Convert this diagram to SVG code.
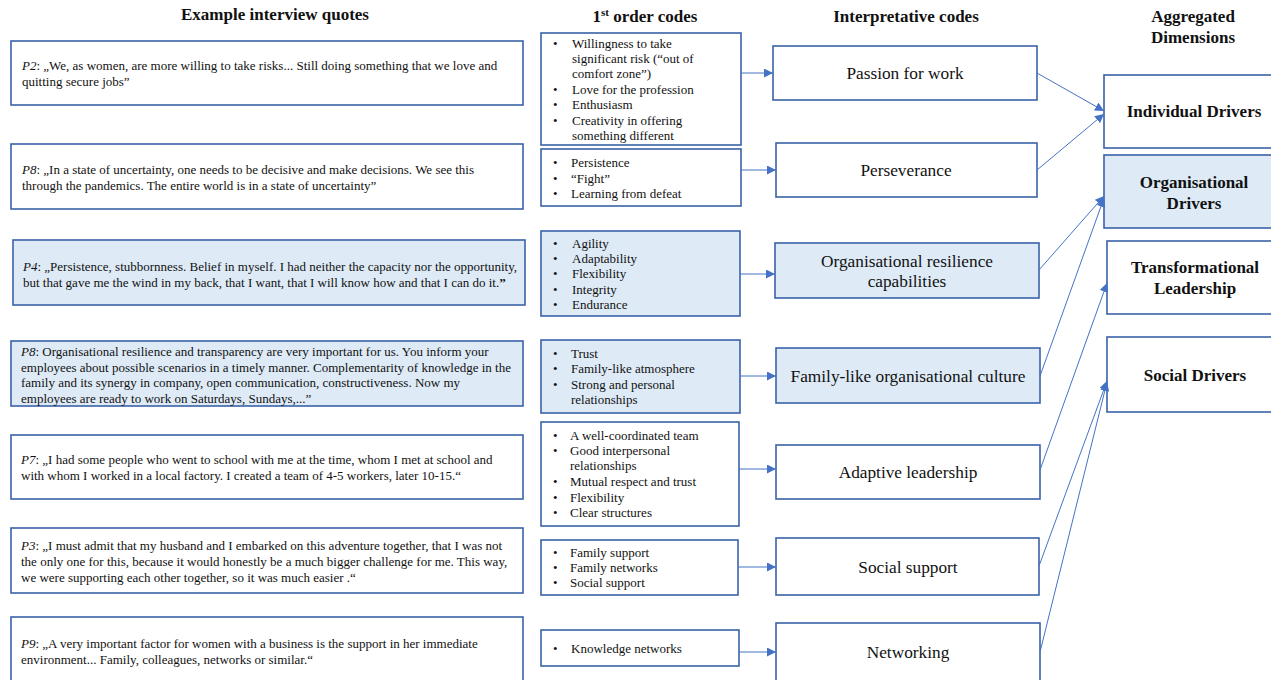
<svg xmlns="http://www.w3.org/2000/svg" width="1271" height="680" viewBox="0 0 1271 680">
<style>
text{font-family:"Liberation Serif","Times New Roman",serif;fill:#111}
.hd{font-size:17px;font-weight:bold;text-anchor:middle}
.q{font-size:13px}
.c{font-size:13px}
.ic{font-size:17.3px;text-anchor:middle}
.ag{font-size:17px;font-weight:bold;text-anchor:middle}
.bx{fill:#fff;stroke:#3a62a8;stroke-width:1.6}
.bl{fill:#deebf7;stroke:#3a62a8;stroke-width:1.6}
.cn{stroke:#4472c4;stroke-width:1;fill:none}
</style>
<defs>
<marker id="ah" markerUnits="userSpaceOnUse" markerWidth="10" markerHeight="9" refX="9" refY="4.5" orient="auto">
<path d="M0,0 L9,4.5 L0,9 z" fill="#4472c4"/>
</marker>
</defs>
<rect width="1271" height="680" fill="#fff"/>
<g id="headers">
<text class="hd" x="275" y="20">Example interview quotes</text>
<text class="hd" x="645" y="22">1<tspan font-size="11" dy="-6">st</tspan><tspan dy="6"> order codes</tspan></text>
<text class="hd" x="906" y="22">Interpretative codes</text>
<text class="hd" x="1193" y="22">Aggregated</text>
<text class="hd" x="1193" y="43">Dimensions</text>
</g>
<g id="quote-p2">
<rect class="bx" x="11" y="41" width="512" height="64"/>
<text class="q" x="22" y="70"><tspan font-style="italic">P2</tspan>: „We, as women, are more willing to take risks... Still doing something that we love and</text>
<text class="q" x="22" y="86">quitting secure jobs”</text>
</g>
<g id="quote-p8a">
<rect class="bx" x="11" y="144" width="512" height="65"/>
<text class="q" x="22" y="174"><tspan font-style="italic">P8</tspan>: „In a state of uncertainty, one needs to be decisive and make decisions. We see this</text>
<text class="q" x="22" y="190">through the pandemics. The entire world is in a state of uncertainty”</text>
</g>
<g id="quote-p4">
<rect class="bl" x="13" y="240" width="512" height="65"/>
<text class="q" x="23" y="271"><tspan font-style="italic">P4</tspan>: „Persistence, stubbornness. Belief in myself. I had neither the capacity nor the opportunity,</text>
<text class="q" x="23" y="287">but that gave me the wind in my back, that I want, that I will know how and that I can do it.<tspan font-weight="bold">”</tspan></text>
</g>
<g id="quote-p8b">
<rect class="bl" x="11" y="341" width="512" height="65"/>
<text class="q" x="21" y="356"><tspan font-style="italic">P8</tspan>: Organisational resilience and transparency are very important for us. You inform your</text>
<text class="q" x="21" y="372">employees about possible scenarios in a timely manner. Complementarity of knowledge in the</text>
<text class="q" x="21" y="387">family and its synergy in company, open communication, constructiveness. Now my</text>
<text class="q" x="21" y="403">employees are ready to work on Saturdays, Sundays,...”</text>
</g>
<g id="quote-p7">
<rect class="bx" x="11" y="435" width="512" height="64"/>
<text class="q" x="21" y="464"><tspan font-style="italic">P7</tspan>: „I had some people who went to school with me at the time, whom I met at school and</text>
<text class="q" x="21" y="480">with whom I worked in a local factory. I created a team of 4-5 workers, later 10-15.“</text>
</g>
<g id="quote-p3">
<rect class="bx" x="11" y="528" width="512" height="65"/>
<text class="q" x="21" y="550"><tspan font-style="italic">P3</tspan>: „I must admit that my husband and I embarked on this adventure together, that I was not</text>
<text class="q" x="21" y="566">the only one for this, because it would honestly be a much bigger challenge for me. This way,</text>
<text class="q" x="21" y="582">we were supporting each other together, so it was much easier .“</text>
</g>
<g id="quote-p9">
<rect class="bx" x="11" y="617" width="512" height="66"/>
<text class="q" x="21" y="648"><tspan font-style="italic">P9</tspan>: „A very important factor for women with a business is the support in her immediate</text>
<text class="q" x="21" y="664">environment... Family, colleagues, networks or similar.“</text>
</g>
<g id="codes-passion">
<rect class="bx" x="541" y="33" width="200" height="112"/>
<text class="c" x="553" y="48">•</text><text class="c" x="572" y="48">Willingness to take</text>
<text class="c" x="572" y="63">significant risk (“out of</text>
<text class="c" x="572" y="78">comfort zone”)</text>
<text class="c" x="553" y="94">•</text><text class="c" x="572" y="94">Love for the profession</text>
<text class="c" x="553" y="109">•</text><text class="c" x="572" y="109">Enthusiasm</text>
<text class="c" x="553" y="125">•</text><text class="c" x="572" y="125">Creativity in offering</text>
<text class="c" x="572" y="140">something different</text>
</g>
<g id="codes-perseverance">
<rect class="bx" x="541" y="149" width="200" height="57"/>
<text class="c" x="553" y="167">•</text><text class="c" x="571" y="167">Persistence</text>
<text class="c" x="553" y="183">•</text><text class="c" x="571" y="183">“Fight”</text>
<text class="c" x="553" y="198">•</text><text class="c" x="571" y="198">Learning from defeat</text>
</g>
<g id="codes-resilience">
<rect class="bl" x="541" y="231" width="199" height="85"/>
<text class="c" x="553" y="248">•</text><text class="c" x="572" y="248">Agility</text>
<text class="c" x="553" y="263">•</text><text class="c" x="572" y="263">Adaptability</text>
<text class="c" x="553" y="278">•</text><text class="c" x="572" y="278">Flexibility</text>
<text class="c" x="553" y="294">•</text><text class="c" x="572" y="294">Integrity</text>
<text class="c" x="553" y="309">•</text><text class="c" x="572" y="309">Endurance</text>
</g>
<g id="codes-family">
<rect class="bl" x="541" y="340" width="199" height="73"/>
<text class="c" x="553" y="358">•</text><text class="c" x="571" y="358">Trust</text>
<text class="c" x="553" y="373">•</text><text class="c" x="571" y="373">Family-like atmosphere</text>
<text class="c" x="553" y="389">•</text><text class="c" x="571" y="389">Strong and personal</text>
<text class="c" x="571" y="404">relationships</text>
</g>
<g id="codes-adaptive">
<rect class="bx" x="541" y="422" width="198" height="104"/>
<text class="c" x="553" y="440">•</text><text class="c" x="570" y="440">A well-coordinated team</text>
<text class="c" x="553" y="455">•</text><text class="c" x="570" y="455">Good interpersonal</text>
<text class="c" x="570" y="470">relationships</text>
<text class="c" x="553" y="486">•</text><text class="c" x="570" y="486">Mutual respect and trust</text>
<text class="c" x="553" y="502">•</text><text class="c" x="570" y="502">Flexibility</text>
<text class="c" x="553" y="517">•</text><text class="c" x="570" y="517">Clear structures</text>
</g>
<g id="codes-social">
<rect class="bx" x="541" y="540" width="197" height="55"/>
<text class="c" x="553" y="557">•</text><text class="c" x="570" y="557">Family support</text>
<text class="c" x="553" y="572">•</text><text class="c" x="570" y="572">Family networks</text>
<text class="c" x="553" y="587">•</text><text class="c" x="570" y="587">Social support</text>
</g>
<g id="codes-networking">
<rect class="bx" x="541" y="630" width="198" height="36"/>
<text class="c" x="553" y="653">•</text><text class="c" x="571" y="653">Knowledge networks</text>
</g>
<g id="ic-passion">
<rect class="bx" x="773" y="46" width="264" height="54"/>
<text class="ic" x="905" y="79">Passion for work</text>
</g>
<g id="ic-perseverance">
<rect class="bx" x="776" y="143" width="261" height="54"/>
<text class="ic" x="906" y="176">Perseverance</text>
</g>
<g id="ic-resilience">
<rect class="bl" x="775" y="243" width="264" height="55"/>
<text class="ic" x="907" y="267">Organisational resilience</text>
<text class="ic" x="907" y="287">capabilities</text>
</g>
<g id="ic-family">
<rect class="bl" x="776" y="348" width="264" height="55"/>
<text class="ic" x="908" y="382">Family-like organisational culture</text>
</g>
<g id="ic-adaptive">
<rect class="bx" x="776" y="445" width="264" height="54"/>
<text class="ic" x="908" y="478">Adaptive leadership</text>
</g>
<g id="ic-social">
<rect class="bx" x="776" y="538" width="263" height="57"/>
<text class="ic" x="908" y="573">Social support</text>
</g>
<g id="ic-networking">
<rect class="bx" x="776" y="623" width="264" height="59"/>
<text class="ic" x="908" y="658">Networking</text>
</g>
<g id="ag-individual">
<rect class="bx" x="1104" y="75" width="170" height="73"/>
<text class="ag" x="1194" y="117">Individual Drivers</text>
</g>
<g id="ag-organisational">
<rect class="bl" x="1104" y="155" width="170" height="73"/>
<text class="ag" x="1194" y="188">Organisational</text>
<text class="ag" x="1194" y="209">Drivers</text>
</g>
<g id="ag-transformational">
<rect class="bx" x="1107" y="241" width="167" height="73"/>
<text class="ag" x="1195" y="273">Transformational</text>
<text class="ag" x="1195" y="294">Leadership</text>
</g>
<g id="ag-social">
<rect class="bx" x="1107" y="337" width="167" height="75"/>
<text class="ag" x="1195" y="381">Social Drivers</text>
</g>
<g id="connectors">
<line class="cn" x1="741" y1="73" x2="773" y2="73" marker-end="url(#ah)"/>
<line class="cn" x1="741" y1="170" x2="776" y2="170" marker-end="url(#ah)"/>
<line class="cn" x1="740" y1="274" x2="775" y2="274" marker-end="url(#ah)"/>
<line class="cn" x1="740" y1="376" x2="776" y2="376" marker-end="url(#ah)"/>
<line class="cn" x1="739" y1="469" x2="776" y2="469" marker-end="url(#ah)"/>
<line class="cn" x1="738" y1="567" x2="776" y2="567" marker-end="url(#ah)"/>
<line class="cn" x1="739" y1="652" x2="776" y2="652" marker-end="url(#ah)"/>
<line class="cn" x1="1037" y1="73" x2="1104" y2="111" marker-end="url(#ah)"/>
<line class="cn" x1="1037" y1="170" x2="1104" y2="114" marker-end="url(#ah)"/>
<line class="cn" x1="1039" y1="270" x2="1104" y2="196" marker-end="url(#ah)"/>
<line class="cn" x1="1040" y1="376" x2="1104" y2="198" marker-end="url(#ah)"/>
<line class="cn" x1="1040" y1="470" x2="1107" y2="283" marker-end="url(#ah)"/>
<line class="cn" x1="1039" y1="566" x2="1107" y2="381" marker-end="url(#ah)"/>
<line class="cn" x1="1040" y1="652" x2="1107" y2="382" marker-end="url(#ah)"/>
</g>
</svg>
